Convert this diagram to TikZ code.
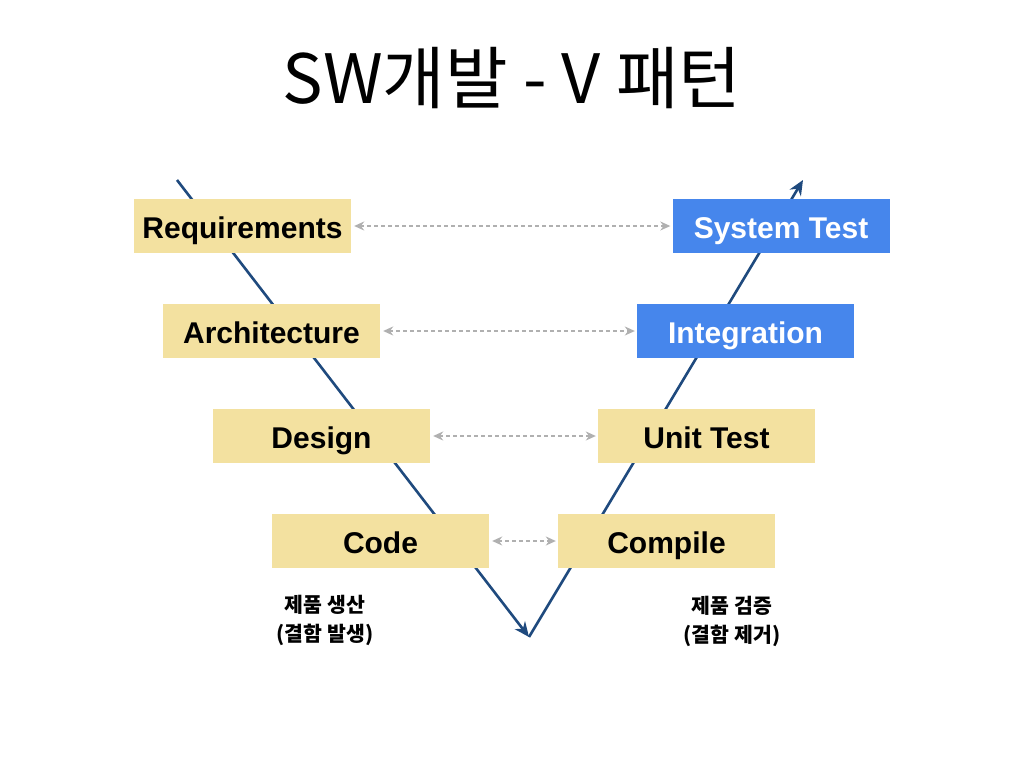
\documentclass[tikz,border=0pt]{standalone}
\usepackage{fontspec}
\setmainfont{Liberation Sans}
\newfontfamily\kr{Noto Sans CJK KR}
\usetikzlibrary{arrows.meta}
\definecolor{boxy}{RGB}{243,225,160}
\definecolor{boxb}{RGB}{70,134,236}
\definecolor{vline}{RGB}{31,74,126}
\definecolor{dgray}{RGB}{176,176,176}
\tikzset{
  ybox/.style={fill=boxy, minimum width=217pt, minimum height=54pt, inner sep=0pt, text height=25pt, text depth=0pt, font=\fontsize{30}{31}\selectfont\bfseries, text=black},
  bbox/.style={ybox, fill=boxb, text=white},
  vleg/.style={draw=vline, line width=2.6pt, -{Stealth[length=15pt,width=13pt]}},
  link/.style={draw=dgray, line width=1.3pt, dash pattern=on 4pt off 3pt, {Stealth[length=10pt,width=9pt]}-{Stealth[length=10pt,width=9pt]}},
  note/.style={font=\kr\fontsize{20.5}{29}\selectfont\bfseries, align=center}
}
\begin{document}
\begin{tikzpicture}[x=1pt,y=-1pt]
\useasboundingbox[fill=white] (0,0) rectangle (1024,768);
\node[font=\kr\fontsize{68}{72}\selectfont] (title) at (512,78) {SW개발 - V 패턴};
\coordinate (ltop) at (177,180);
\coordinate (bot) at (529,637);
\coordinate (rtop) at (803,180);
\draw[vleg] (ltop) -- (bot);
\draw[vleg] (bot) -- (rtop);
\node[ybox] (req) at (242.5,226) {Requirements};
\node[bbox] (sys) at (781,226) {System Test};
\node[ybox] (arc) at (271.5,331) {Architecture};
\node[bbox] (int) at (745.5,331) {Integration};
\node[ybox] (des) at (321.5,436) {Design};
\node[ybox] (ut) at (706.5,436) {Unit Test};
\node[ybox] (code) at (380.5,541) {Code};
\node[ybox] (comp) at (666.5,541) {Compile};
\draw[link] ([xshift=3pt]req.east) -- ([xshift=-2pt]sys.west);
\draw[link] ([xshift=3pt]arc.east) -- ([xshift=-2pt]int.west);
\draw[link] ([xshift=3pt]des.east) -- ([xshift=-2pt]ut.west);
\draw[link] ([xshift=3pt]code.east) -- ([xshift=-2pt]comp.west);
\node[note] (n1) at (325,620) {제품 생산\\(결함 발생)};
\node[note] (n2) at (732,621) {제품 검증\\(결함 제거)};
\end{tikzpicture}
\end{document}
